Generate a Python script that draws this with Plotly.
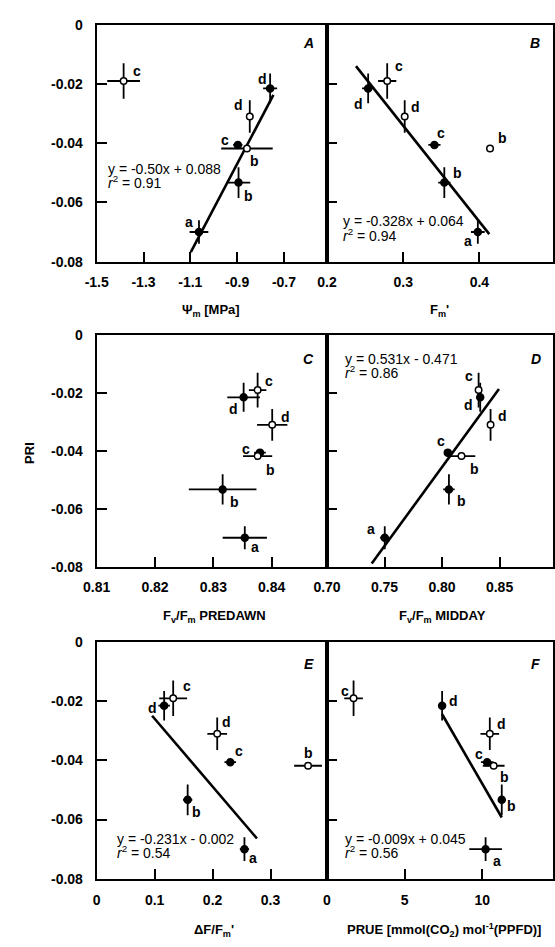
import plotly.graph_objects as go

W, H = 555, 947

# ---------------- data ----------------
# order: a, b, c, d (filled) ; b, c, d (open)
point_labels = ["a", "b", "c", "d", "b", "c", "d"]
is_filled = [True, True, True, True, False, False, False]

pri = [-0.0700, -0.0533, -0.0406, -0.0215, -0.0418, -0.0190, -0.0310]
pri_err = [0.004, 0.0052, 0.001, 0.005, 0.0008, 0.006, 0.0055]

psi_m = [-1.063, -0.894, -0.897, -0.759, -0.858, -1.385, -0.846]
psi_m_err = [0.04, 0.05, 0.02, 0.03, 0.11, 0.07, 0.015]

fm_prime = [0.398, 0.354, 0.341, 0.254, 0.414, 0.279, 0.302]
fm_prime_err = [0.009, 0.008, 0.008, 0.008, 0.005, 0.012, 0.004]

fvfm_predawn = [0.8354, 0.8316, 0.8380, 0.8352, 0.8376, 0.8376, 0.8401]
fvfm_predawn_err = [0.0038, 0.0058, 0.001, 0.0028, 0.0025, 0.0015, 0.0026]

fvfm_midday = [0.7502, 0.806, 0.805, 0.8332, 0.8169, 0.8318, 0.8422]
fvfm_midday_err = [0.004, 0.005, 0.003, 0.002, 0.012, 0.002, 0.002]

dF_fm = [0.255, 0.157, 0.2305, 0.1164, 0.3648, 0.132, 0.208]
dF_fm_err = [0.008, 0.008, 0.01, 0.01, 0.024, 0.024, 0.017]

prue = [10.21, 11.25, 10.31, 7.41, 10.73, 1.71, 10.48]
prue_err = [1.05, 0.2, 0.4, 0.2, 0.7, 0.6, 0.6]

# regression lines (end points)
fit_A_x = [-1.098, -0.745]; fit_A_y = [-0.0768, -0.0237]
fit_B_x = [0.238, 0.413];   fit_B_y = [-0.0140, -0.0707]
fit_D_x = [0.7389, 0.8495]; fit_D_y = [-0.0789, -0.0186]
fit_E_x = [0.0956, 0.2766]; fit_E_y = [-0.0249, -0.0664]
fit_F_x = [7.41, 11.25];    fit_F_y = [-0.0244, -0.0593]

eq_A = ["y = -0.50x + 0.088", "r² = 0.91"]
eq_B = ["y = -0.328x + 0.064", "r² = 0.94"]
eq_D = ["y = 0.531x - 0.471", "r² = 0.86"]
eq_E = ["y = -0.231x - 0.002", "r² = 0.54"]
eq_F = ["y = -0.009x + 0.045", "r² = 0.56"]

y_ticks = [0, -0.02, -0.04, -0.06, -0.08]
y_tick_text = ["0", "-0.02", "-0.04", "-0.06", "-0.08"]

# ---------------- layout helpers ----------------
FONT = "Liberation Sans, Arial, sans-serif"
xl = [85 / W, 321.7 / W]
xr = [321.7 / W, 554 / W]
rows_px = [(17, 258), (332.7, 568.3), (645, 885.7)]
ydom = [[1 - b / H, 1 - t / H] for (t, b) in rows_px]

panels = [
    dict(key="A", x=psi_m, xe=psi_m_err, rng=[-1.5, -0.516],
         tv=[-1.5, -1.3, -1.1, -0.9, -0.7], tt=["-1.5", "-1.3", "-1.1", "-0.9", "-0.7"],
         fit=(fit_A_x, fit_A_y), eq=eq_A, eqpos=(95, 163.3),
         off=[(-10, -10), (10, 13), (-13, -5), (-8, -9), (8, 12), (13, -10), (-11, -12)],
         title="Ψ<sub>m</sub> [MPa]", tpos=(202, 308)),
    dict(key="B", x=fm_prime, xe=fm_prime_err, rng=[0.2, 0.4967],
         tv=[0.2, 0.3, 0.4], tt=["0.2", "0.3", "0.4"],
         fit=(fit_B_x, fit_B_y), eq=eq_B, eqpos=(335.7, 216.7),
         off=[(-10, 9), (13, -10), (7, -12), (-10, 16), (12, -11), (12, -15), (11, -10)],
         title="F<sub>m</sub>'", tpos=(437, 308)),
    dict(key="C", x=fvfm_predawn, xe=fvfm_predawn_err, rng=[0.81, 0.8495],
         tv=[0.81, 0.82, 0.83, 0.84], tt=["0.81", "0.82", "0.83", "0.84"],
         fit=None, eq=None, eqpos=None,
         off=[(10, 9), (12, 13), (-14, -4), (-10, 12), (13, 14), (11, -9), (13, -8)],
         title="F<sub>v</sub>/F<sub>m</sub> PREDAWN", tpos=(206, 619)),
    dict(key="D", x=fvfm_midday, xe=fvfm_midday_err, rng=[0.70, 0.8965],
         tv=[0.70, 0.75, 0.80, 0.85], tt=["0.70", "0.75", "0.80", "0.85"],
         fit=(fit_D_x, fit_D_y), eq=eq_D, eqpos=(338.3, 356.7),
         off=[(-14, -9), (13, 12), (-7, -12), (-12, 8), (13, 13), (-10, -14), (12, -9)],
         title="F<sub>v</sub>/F<sub>m</sub> MIDDAY", tpos=(440, 619)),
    dict(key="E", x=dF_fm, xe=dF_fm_err, rng=[0, 0.3975],
         tv=[0, 0.1, 0.2, 0.3], tt=["0", "0.1", "0.2", "0.3"],
         fit=(fit_E_x, fit_E_y), eq=eq_E, eqpos=(103.3, 845),
         off=[(9, 9), (9, 12), (9, -11), (-12, 2), (0, -13), (14, -12), (9, -12)],
         title="ΔF/F<sub>m</sub>'", tpos=(206, 938)),
    dict(key="F", x=prue, xe=prue_err, rng=[0, 14.55],
         tv=[0, 5, 10], tt=["0", "5", "10"],
         fit=(fit_F_x, fit_F_y), eq=eq_F, eqpos=(338.3, 845),
         off=[(11, 12), (10, 6), (-8, -8), (11, -5), (11, 11), (-9, -7), (12, -10)],
         title="PRUE [mmol(CO<sub>2</sub>) mol<sup>-1</sup>(PPFD)]", tpos=(442, 938)),
]
letter_pos = [(303, 36), (535, 36), (303, 357), (536, 357), (303, 667), (536, 667)]

fig = go.Figure()
annotations = []

for i, p in enumerate(panels):
    row, col = i // 2, i % 2
    sfx = "" if i == 0 else str(i + 1)
    xa, ya = "x" + sfx, "y" + sfx

    # regression line
    if p["fit"] is not None:
        fig.add_trace(go.Scatter(x=p["fit"][0], y=p["fit"][1], mode="lines",
                                 line=dict(color="black", width=2.6),
                                 xaxis=xa, yaxis=ya, showlegend=False, hoverinfo="skip"))

    for filled in (True, False):
        idx = [k for k in range(7) if is_filled[k] == filled]
        fig.add_trace(go.Scatter(
            x=[p["x"][k] for k in idx], y=[pri[k] for k in idx], mode="markers",
            marker=dict(symbol="circle", size=7 if filled else 6.5,
                        color="black" if filled else "white",
                        line=dict(color="black", width=1.5)),
            error_x=dict(type="data", array=[p["xe"][k] for k in idx],
                         color="black", thickness=1.8, width=0),
            error_y=dict(type="data", array=[pri_err[k] for k in idx],
                         color="black", thickness=1.8, width=0),
            xaxis=xa, yaxis=ya, showlegend=False))

    # point letters
    for k in range(7):
        dx, dy = p["off"][k]
        annotations.append(dict(x=p["x"][k], y=pri[k], xref=xa, yref=ya,
                                text=point_labels[k], showarrow=False,
                                xshift=dx, yshift=-dy,
                                font=dict(family=FONT, size=14, color="black", weight="bold")))

    # equation
    if p["eq"] is not None:
        ex, ey = p["eqpos"]
        for j, line in enumerate(p["eq"]):
            txt = line
            if j == 1:
                txt = "<i>r</i><sup>2</sup>" + line[2:]
            annotations.append(dict(x=ex / W, y=1 - (ey + j * 13.8) / H, xref="paper", yref="paper",
                                    text=txt, showarrow=False, xanchor="left", yanchor="middle",
                                    font=dict(family=FONT, size=14, color="black")))

    # x axis title
    tx, ty = p["tpos"]
    annotations.append(dict(x=tx / W, y=1 - ty / H, xref="paper", yref="paper",
                            text=p["title"], showarrow=False, xanchor="center", yanchor="middle",
                            font=dict(family=FONT, size=13, color="black", weight="bold")))

    # panel letter
    lx, ly = letter_pos[i]
    annotations.append(dict(x=lx / W, y=1 - ly / H, xref="paper", yref="paper",
                            text="<b><i>" + p["key"] + "</i></b>", showarrow=False,
                            xanchor="center", yanchor="middle",
                            font=dict(family=FONT, size=14, color="black")))

    axis_common = dict(showline=True, linewidth=2, linecolor="black", mirror=True,
                       showgrid=False, zeroline=False, ticks="inside", ticklen=10,
                       tickwidth=2, tickcolor="black",
                       tickfont=dict(family=FONT, size=14, color="black", weight="bold"))
    fig.layout["xaxis" + sfx] = dict(axis_common, domain=xl if col == 0 else xr,
                                     range=p["rng"], tickvals=p["tv"], ticktext=p["tt"],
                                     anchor=ya, ticklabelstandoff=7)
    fig.layout["yaxis" + sfx] = dict(axis_common, domain=ydom[row], range=[-0.08, 0],
                                     tickvals=y_ticks, ticktext=y_tick_text,
                                     showticklabels=(col == 0), anchor=xa,
                                     ticklabelstandoff=9)

# y axis title
annotations.append(dict(x=16 / W, y=1 - 453 / H, xref="paper", yref="paper", text="PRI",
                        showarrow=False, textangle=-90, xanchor="center", yanchor="middle",
                        font=dict(family=FONT, size=13, color="black", weight="bold")))

fig.update_layout(width=W, height=H, margin=dict(l=0, r=0, t=0, b=0),
                  paper_bgcolor="white", plot_bgcolor="white",
                  annotations=annotations, showlegend=False)

fig.write_html("out.html", config={"displayModeBar": False},
               post_script="document.body.style.margin='0';document.body.style.overflow='hidden';")
